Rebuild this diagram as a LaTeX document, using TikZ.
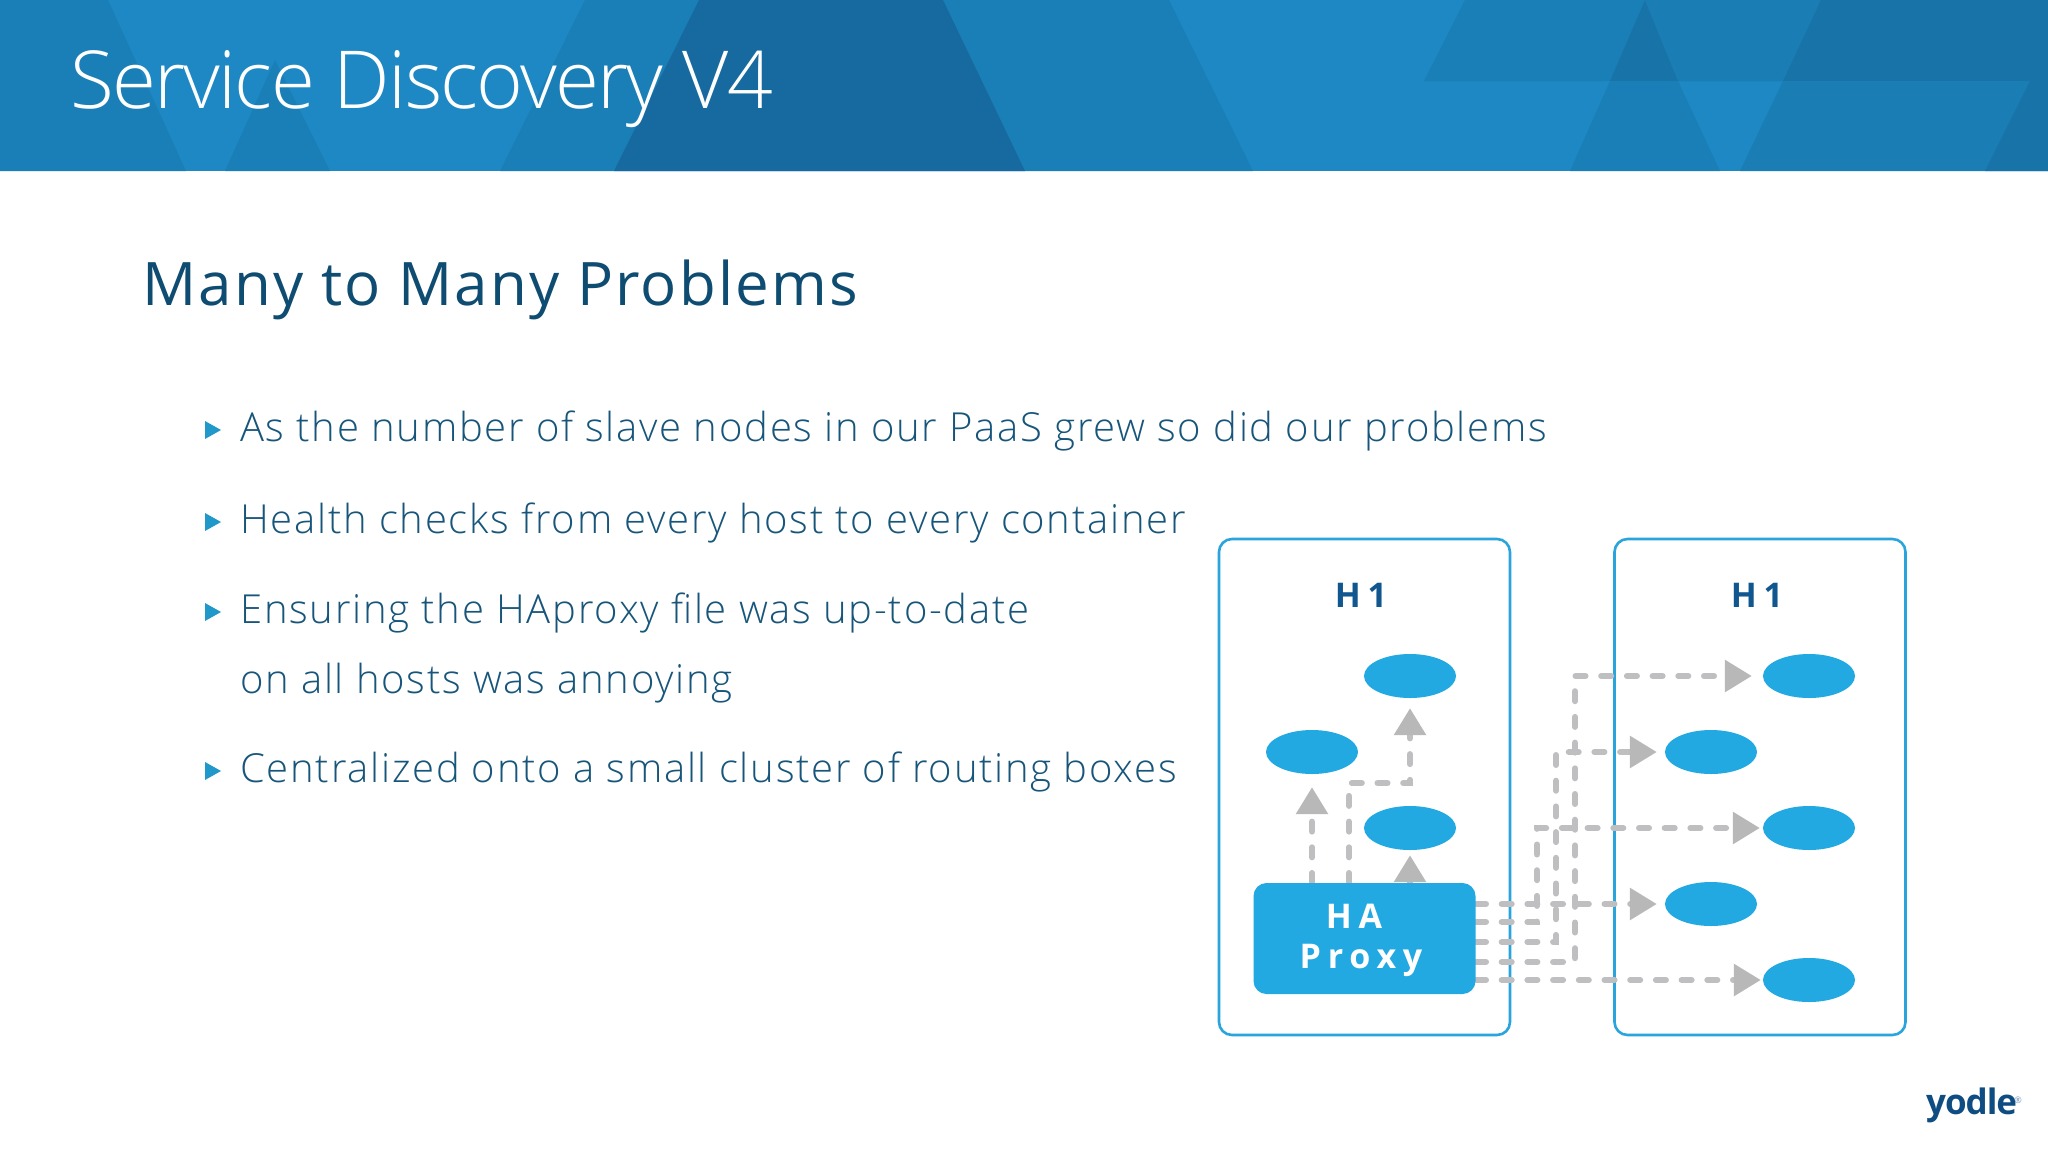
\documentclass[tikz,border=0pt]{standalone}
\usepackage{fontspec}
\usetikzlibrary{arrows.meta,shapes.geometric,calc}
\setmainfont{Open Sans}
\newfontfamily\lightf[LetterSpace=4.4]{Open Sans Light}
\newfontfamily\titlef[LetterSpace=-2.2]{Open Sans Light}
\newfontfamily\headf[LetterSpace=3.6]{Open Sans}
\newfontfamily\boldf[LetterSpace=20]{Open Sans Bold}
\newfontfamily\logof[LetterSpace=-3]{Open Sans Bold}
\definecolor{baseblue}{HTML}{1D88C3}
\definecolor{midblue}{HTML}{1B7FB7}
\definecolor{darkblue}{HTML}{166A9F}
\definecolor{bandblue}{HTML}{1873A9}
\definecolor{bandmid}{HTML}{1A7DB4}
\definecolor{cyanfill}{HTML}{23A9E1}
\definecolor{boxline}{HTML}{2AA4DC}
\definecolor{headcol}{HTML}{0E4C72}
\definecolor{bodycol}{HTML}{17557A}
\definecolor{hcol}{HTML}{10568F}
\definecolor{dashcol}{HTML}{BFBFC2}
\definecolor{tipcol}{HTML}{B8B8B9}
\definecolor{logocol}{HTML}{0F4C81}
\tikzset{
  x=1pt,y=-1pt,
  hostbox/.style={draw=boxline,line width=2.6pt,rounded corners=13pt,fill=white},
  svc/.style={ellipse,fill=cyanfill,minimum width=92pt,minimum height=44pt,inner sep=0pt},
  link/.style={draw=dashcol,line width=6pt,line cap=round,dash pattern=on 10pt off 15.7pt,
     -{Triangle[length=27pt,width=31pt,color=tipcol]}},
  bullettext/.style={anchor=base west,text=bodycol,font=\lightf\fontsize{40}{40}\selectfont,inner sep=0pt},
  bulletmark/.style={fill=cyanfill!90!black},
  hlabel/.style={text=hcol,font=\boldf\fontsize{34}{34}\selectfont,inner sep=0pt},
  hatext/.style={text=white,font=\boldf\fontsize{34}{34}\selectfont,inner sep=0pt},
}
\begin{document}
\begin{tikzpicture}
\useasboundingbox (0,0) rectangle (2048,1152);
\fill[white] (0,0) rectangle (2048,1152);
% banner
\fill[baseblue] (0,0) rectangle (2048,171);
\fill[midblue] (0,0) -- (108,0) -- (186,171) -- (0,171) -- cycle;
\fill[midblue] (275,60) -- (330,171) -- (225,171) -- cycle;
\fill[midblue] (585,0) -- (1169,0) -- (1253,171) -- (500,171) -- cycle;
\fill[darkblue] (699,0) -- (943,0) -- (1025,171) -- (614,171) -- cycle;
\fill[midblue] (1465,0) -- (1424,81) -- (2048,81) -- (2048,0) -- cycle;
\fill[bandblue] (1645,0) -- (1610,81) -- (1678,81) -- cycle;
\fill[midblue] (1610,81) -- (1678,81) -- (1720,171) -- (1570,171) -- cycle;
\fill[bandmid] (1645,0) -- (1821,0) -- (1783,81) -- (1678,81) -- cycle;
\fill[bandblue] (1821,0) -- (2048,0) -- (2048,81) -- (1783,81) -- cycle;
\fill[bandmid] (1783,81) -- (2048,81) -- (2048,171) -- (1740,171) -- cycle;
\fill[bandblue] (2048,81) -- (2030,81) -- (1985,171) -- (2048,171) -- cycle;
% titles
\node[anchor=base west,text=white,font=\titlef\fontsize{80}{80}\selectfont,inner sep=0pt] (title) at (70,108) {Service Discovery V4};
\node[anchor=base west,text=headcol,font=\headf\fontsize{60}{60}\selectfont,inner sep=0pt] (head) at (142,305) {Many to Many Problems};
% bullets
\foreach \nm/\yy/\tx in {b1/441/As the number of slave nodes in our PaaS grew so did our problems,
  b2/533/Health checks from every host to every container,
  b3/623/Ensuring the HAproxy file was up-to-date,
  b5/782/Centralized onto a small cluster of routing boxes}{
  \node[bullettext] (\nm) at (240,\yy) {\tx};
  \fill[bulletmark] (205,\yy-20) -- (221,\yy-11) -- (205,\yy-2) -- cycle;
}
\node[bullettext] (b4) at (240,693) {on all hosts was annoying};
% hosts
\node[hostbox,minimum width=291pt,minimum height=496pt,inner sep=0pt] (hostA) at (1364.5,787) {};
\node[hostbox,minimum width=291pt,minimum height=496pt,inner sep=0pt] (hostB) at (1760,787) {};
\node[hlabel] (la) at (1361,595) {H1};
\node[hlabel] (lb) at (1757,595) {H1};
% services
\node[svc] (a1) at (1410,676) {};
\node[svc] (a2) at (1312,752) {};
\node[svc] (a3) at (1410,828) {};
\node[svc] (r1) at (1809,676) {};
\node[svc] (r2) at (1711,752) {};
\node[svc] (r3) at (1809,828) {};
\node[svc] (r4) at (1711,904) {};
\node[svc] (r5) at (1809,980) {};
% proxy geometry
\coordinate (pn) at (1364,883);
\coordinate (pe) at (1476,938);
% connectors
\draw[link,shorten >=13pt] (pn -| a2) -- (a2);
\draw[link,shorten >=10pt] (1349,883) -- (1349,783) -- (1410,783) -- (a1);
\draw[link,shorten >=5pt] (pn -| a3) -- (a3);
\draw[link,shorten >=8pt] (pe |- r4) -- (r4);
\draw[link,shorten >=3pt] (1476,922) -- (1537,922) -- (1537,828) -- (r3);
\draw[link,shorten >=8pt] (1476,942) -- (1556,942) -- (1556,752) -- (r2);
\draw[link,shorten >=11pt] (1476,962) -- (1575,962) -- (1575,676) -- (r1);
\draw[link,shorten >=2pt] (pe |- r5) -- (r5);
% proxy
\node[fill=cyanfill,rounded corners=13pt,minimum width=222pt,minimum height=111pt,inner sep=0pt] (proxy) at (1364.5,938.5) {};
\node[hatext] (t1) at (1354,916) {HA};
\node[hatext] (t2) at (1361,960) {Proxy};
% logo
\node[anchor=base west,text=logocol,font=\logof\fontsize{35}{35}\selectfont,inner sep=0pt] (logo) at (1926,1114) {yodle};
\node[anchor=center,text=logocol!60,font=\fontsize{9}{9}\selectfont,inner sep=0pt] (reg) at (2018,1100) {®};
\end{tikzpicture}
\end{document}
